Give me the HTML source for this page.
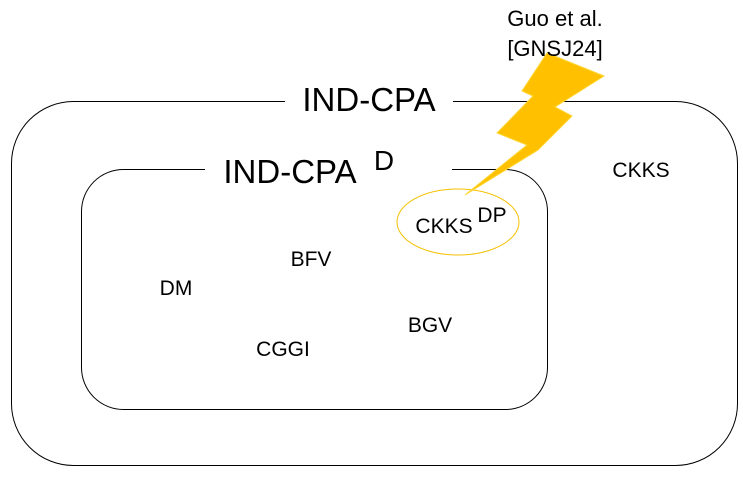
<!DOCTYPE html><html><head><style>body{margin:0;background:#fff}</style></head><body>
<svg width="743" height="479" viewBox="0 0 743 479" xmlns="http://www.w3.org/2000/svg" font-family="Liberation Sans, DejaVu Sans, sans-serif">
<rect x="11.5" y="101.5" width="726" height="364" rx="62" fill="none" stroke="#000" stroke-width="1"/>
<rect x="81.5" y="169.5" width="466" height="240" rx="42" fill="none" stroke="#000" stroke-width="1"/>
<rect x="285" y="90" width="168" height="24" fill="#fff"/>
<rect x="205" y="158" width="247" height="24" fill="#fff"/>
<text x="369" y="111" font-size="33" text-anchor="middle">IND-CPA</text>
<text x="290" y="183" font-size="33" text-anchor="middle">IND-CPA</text>
<text x="384" y="170" font-size="28" text-anchor="middle">D</text>
<ellipse cx="458" cy="222" rx="61" ry="33" fill="none" stroke="#f5c000" stroke-width="1"/>
<polygon points="547,53 604,76 555,107 572,116 538,150 465,195 527,145 497,133 533,96 522,91" fill="#ffc000" stroke="#ffd633" stroke-width="1"/>
<text x="555" y="26" font-size="22" text-anchor="middle">Guo et al.</text>
<text x="555" y="56" font-size="22" text-anchor="middle">[GNSJ24]</text>
<text x="641" y="177" font-size="21" text-anchor="middle">CKKS</text>
<text x="444" y="233" font-size="21" text-anchor="middle">CKKS</text>
<text x="492" y="222" font-size="21" text-anchor="middle">DP</text>
<text x="311" y="266" font-size="21" text-anchor="middle">BFV</text>
<text x="176" y="295" font-size="21" text-anchor="middle">DM</text>
<text x="430" y="332" font-size="21" text-anchor="middle">BGV</text>
<text x="283" y="356" font-size="21" text-anchor="middle">CGGI</text>
</svg></body></html>
